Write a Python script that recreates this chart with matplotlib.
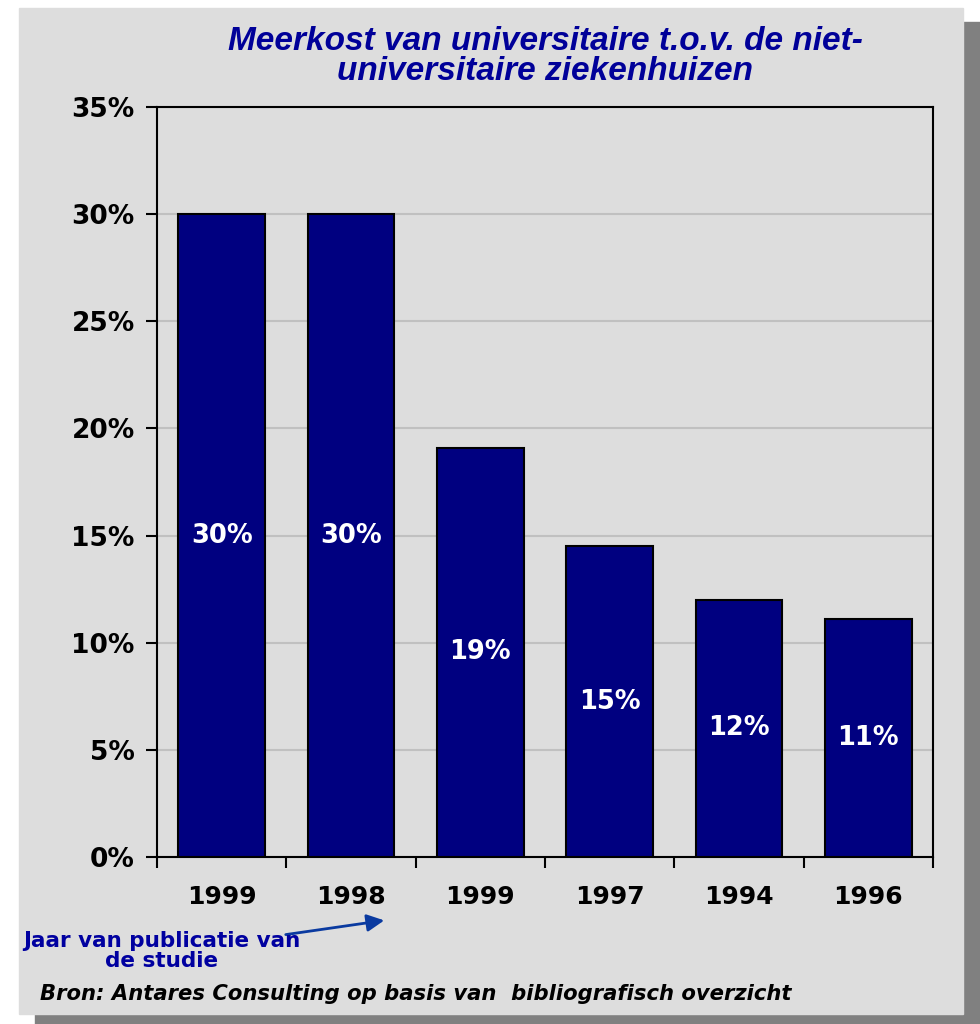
import matplotlib.pyplot as plt
from matplotlib.patches import Rectangle

# data
years = ["1999", "1998", "1999", "1997", "1994", "1996"]
values = [30.0, 30.0, 19.1, 14.5, 12.0, 11.1]
bar_labels = ["30%", "30%", "19%", "15%", "12%", "11%"]
yticks = [0, 5, 10, 15, 20, 25, 30, 35]

W, H = 980, 1024
navy = "#000080"
panel = "#dddddd"
blue_txt = "#000099"

fig = plt.figure(figsize=(W / 100, H / 100), dpi=100)
fig.patch.set_facecolor("white")

# drop shadow + gray panel
fig.add_artist(Rectangle((35 / W, 0), (W - 35) / W, 1 - 22 / H,
                         transform=fig.transFigure, color="#808080", zorder=0))
fig.add_artist(Rectangle((19 / W, 1 - 1014 / H), (963 - 19) / W, (1014 - 8) / H,
                         transform=fig.transFigure, color=panel, zorder=0))

ax = fig.add_axes([157 / W, 1 - 857 / H, (933 - 157) / W, (857 - 107) / H])
ax.set_facecolor(panel)

x = range(len(values))
ax.bar(x, values, width=0.67, color=navy, edgecolor="black",
       linewidth=1.5, zorder=3)
for i, (v, lab) in enumerate(zip(values, bar_labels)):
    ax.text(i, v / 2, lab, ha="center", va="center", color="white",
            fontsize=18.5, fontweight="bold", family="DejaVu Sans", zorder=4)

ax.set_xlim(-0.5, len(values) - 0.5)
ax.set_ylim(0, 35)
ax.set_yticks(yticks)
ax.set_yticklabels([f"{t}%" for t in yticks])
ax.yaxis.grid(True, color="#c0c0c0", linewidth=1.5, zorder=1)
ax.set_axisbelow(True)

# category labels between boundary ticks
ax.set_xticks([i - 0.5 for i in range(len(values) + 1)])
ax.set_xticklabels([])
ax.set_xticks(list(x), minor=True)
ax.set_xticklabels(years, minor=True)
ax.tick_params(axis="x", which="minor", length=0, pad=20)
ax.tick_params(axis="x", which="major", length=8, width=1.5, direction="out")
ax.tick_params(axis="y", length=8, width=1.5, direction="out", pad=8)
for lab in ax.get_yticklabels():
    lab.set_fontsize(19)
    lab.set_fontweight("bold")
    lab.set_family("DejaVu Sans")
for lab in ax.get_xticklabels(minor=True):
    lab.set_fontsize(18)
    lab.set_fontweight("bold")
    lab.set_family("DejaVu Sans")
for s in ax.spines.values():
    s.set_linewidth(1.5)
    s.set_color("black")

fig.text(545 / W, 1 - 41 / H, "Meerkost van universitaire t.o.v. de niet-",
         ha="center", va="center", color=blue_txt, fontsize=24,
         fontweight="bold", style="italic", family="Liberation Sans")
fig.text(545 / W, 1 - 71 / H, "universitaire ziekenhuizen",
         ha="center", va="center", color=blue_txt, fontsize=24,
         fontweight="bold", style="italic", family="Liberation Sans")

fig.text(162 / W, 1 - 951 / H, "Jaar van publicatie van\nde studie",
         ha="center", va="center", color="#0000a0", fontsize=15.5,
         fontweight="bold", family="DejaVu Sans", linespacing=0.95)
ax.annotate("", xy=(387 / W, 1 - 920 / H), xycoords="figure fraction",
            xytext=(283 / W, 1 - 935 / H), textcoords="figure fraction",
            arrowprops=dict(arrowstyle="-|>", color="#0a3aa0", lw=2,
                            mutation_scale=26), annotation_clip=False)

fig.text(40 / W, 1 - 994 / H,
         "Bron: Antares Consulting op basis van  bibliografisch overzicht",
         ha="left", va="center", color="black", fontsize=15.2,
         fontweight="bold", style="italic", family="DejaVu Sans")

fig.savefig("out.png", dpi=100, facecolor=fig.get_facecolor())
